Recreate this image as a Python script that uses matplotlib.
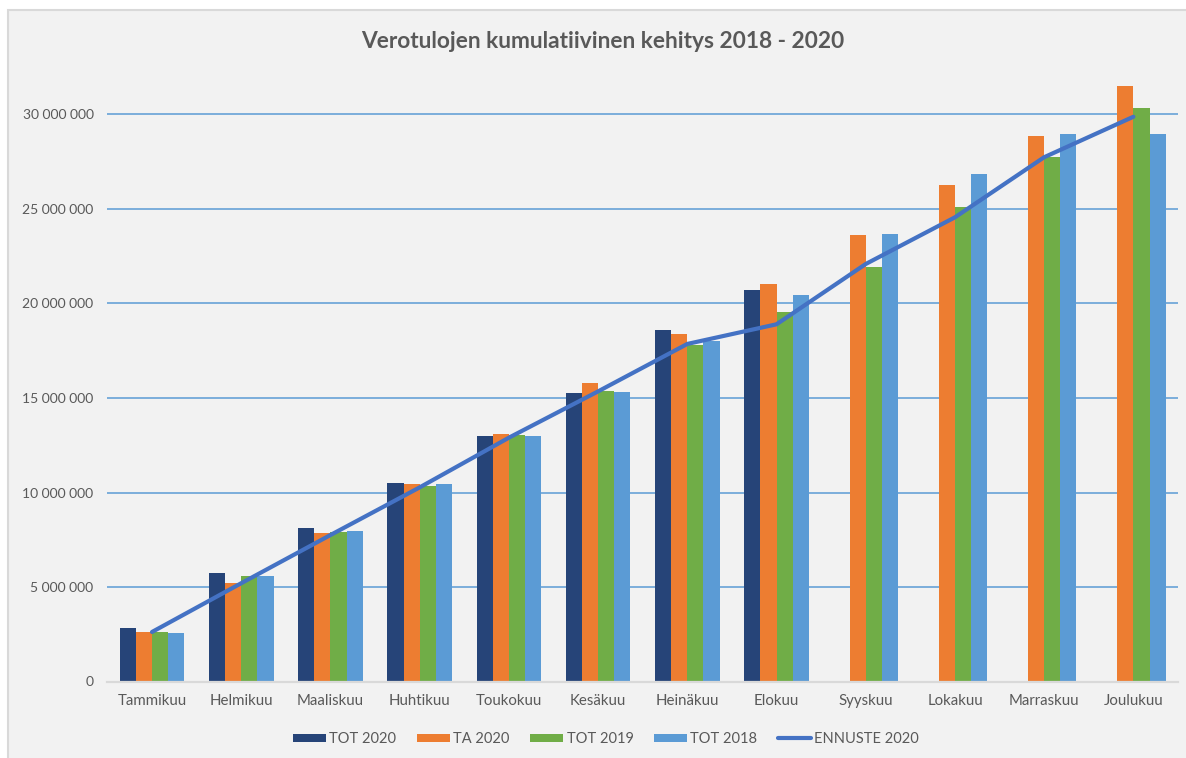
import matplotlib
matplotlib.use("Agg")
import matplotlib.pyplot as plt
from matplotlib.patches import Patch, Rectangle
from matplotlib.lines import Line2D
from matplotlib.ticker import FuncFormatter, MultipleLocator
import numpy as np

plt.rcParams['font.family'] = ['Lato', 'DejaVu Sans']

months = ["Tammikuu", "Helmikuu", "Maaliskuu", "Huhtikuu", "Toukokuu", "Kesäkuu",
          "Heinäkuu", "Elokuu", "Syyskuu", "Lokakuu", "Marraskuu", "Joulukuu"]
tot2020 = [2.81e6, 5.72e6, 8.10e6, 10.50e6, 12.99e6, 15.26e6, 18.61e6, 20.70e6,
           np.nan, np.nan, np.nan, np.nan]
ta2020 = [2.60e6, 5.20e6, 7.84e6, 10.45e6, 13.08e6, 15.78e6, 18.39e6, 21.01e6,
          23.64e6, 26.25e6, 28.88e6, 31.51e6]
tot2019 = [2.60e6, 5.58e6, 7.89e6, 10.36e6, 13.04e6, 15.35e6, 17.80e6, 19.57e6,
           21.91e6, 25.09e6, 27.77e6, 30.33e6]
tot2018 = [2.55e6, 5.58e6, 7.98e6, 10.43e6, 12.99e6, 15.32e6, 18.02e6, 20.43e6,
           23.68e6, 26.85e6, 28.97e6, 28.97e6]
ennuste2020 = [2.62e6, 5.20e6, 7.75e6, 10.27e6, 12.90e6, 15.35e6, 17.86e6, 18.90e6,
               22.09e6, 24.56e6, 27.74e6, 29.88e6]

series_names = ["TOT 2020", "TA 2020", "TOT 2019", "TOT 2018"]
line_name = "ENNUSTE 2020"
title = "Verotulojen kumulatiivinen kehitys 2018 - 2020"

colors = ["#264478", "#ED7D31", "#70AD47", "#5B9BD5"]
line_color = "#4472C4"
text_color = "#595959"
bg = "#F2F2F2"

W, H = 1186, 758
fig = plt.figure(figsize=(W / 100, H / 100), dpi=100, facecolor="white")
# chart area background with border (cropped on right/bottom)
bg_rect = Rectangle((8 / W, -0.1), 1.0, 1.1 - 10 / H, transform=fig.transFigure,
                    facecolor=bg, edgecolor="#D9D9D9", linewidth=1.5, zorder=-10)
fig.patches.append(bg_rect)

left, right = 107.4, 1178.0
bottom_px, top_px = 681.5, 57.8
ax = fig.add_axes([left / W, (H - bottom_px) / H, (right - left) / W, (bottom_px - top_px) / H])
ax.patch.set_visible(False)

x = np.arange(len(months))
bw = 0.181
data = [tot2020, ta2020, tot2019, tot2018]
for i, (vals, c) in enumerate(zip(data, colors)):
    ax.bar(x + (i - 1.5) * bw, vals, width=bw, color=c, zorder=3, linewidth=0)

ax.plot(x, ennuste2020, color=line_color, linewidth=3.0, solid_capstyle="round",
        solid_joinstyle="round", zorder=4)

ax.set_xlim(-0.5, 11.5)
ax.set_ylim(0, 33e6)
ax.yaxis.set_major_locator(MultipleLocator(5e6))
ax.yaxis.set_major_formatter(FuncFormatter(lambda v, p: f"{int(round(v)):,}".replace(",", " ")))
ax.grid(axis="y", color="#5B9BD5", linewidth=1.1, zorder=1)
ax.set_axisbelow(True)
for s in ["top", "right", "left"]:
    ax.spines[s].set_visible(False)
ax.spines["bottom"].set_color("#D9D9D9")
ax.spines["bottom"].set_linewidth(1.6)
ax.spines["bottom"].set_zorder(5)
ax.set_xticks(x)
ax.set_xticklabels(months)
ax.tick_params(axis="x", length=0, pad=9, labelsize=10.8, labelcolor=text_color)
ax.tick_params(axis="y", length=0, pad=10, labelsize=10, labelcolor=text_color)

fig.text(603 / W, 1 - 41 / H, title, ha="center", va="center", fontsize=16.4,
         fontweight="bold", color=text_color)

handles = [Patch(facecolor=c, edgecolor="none") for c in colors]
handles.append(Line2D([0], [0], color=line_color, linewidth=3.0, solid_capstyle="round"))
labels = series_names + [line_name]
leg = fig.legend(handles, labels, loc="center", bbox_to_anchor=(606 / W, 1 - 739 / H),
                 ncol=5, frameon=False, fontsize=10.5, handlelength=2.25, handleheight=0.45,
                 handletextpad=0.25, columnspacing=1.4, labelcolor=text_color)

fig.savefig("out.png", dpi=100, facecolor="white")
